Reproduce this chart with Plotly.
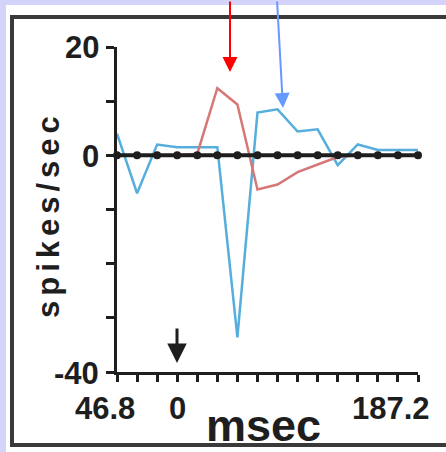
import plotly.graph_objects as go

W, H = 446, 452

# ---- data ----
time_ms = [-46.8, -31.2, -15.6, 0.0, 15.6, 31.2, 46.8, 62.4, 78.0, 93.6,
           109.2, 124.8, 140.4, 156.0, 171.6, 187.2]
blue_rate = [4.0, -7.0, 2.0, 1.5, 1.5, 1.5, -33.6, 7.9, 8.5, 4.4,
             4.8, -1.8, 2.0, 1.0, 1.0, 1.0]
red_rate = [0.0, 0.0, 0.0, 0.0, 0.3, 12.4, 9.4, -6.3, -5.4, -3.1,
            -1.7, -0.3, 0.0, 0.0, 0.0, 0.0]
y_ticks = [20, 10, 0, -10, -20, -30, -40]
y_labels = ["20", "0", "-40"]
x_labels = ["46.8", "0", "187.2"]


def px(x, y):
    return x / W, 1 - y / H


FONT = "Liberation Sans, Arial, sans-serif"
INK = "#1e1e1e"

fig = go.Figure()
fig.add_trace(go.Scatter(x=time_ms, y=blue_rate, mode="lines",
                         line=dict(color="#56aedc", width=2.5), showlegend=False))
fig.add_trace(go.Scatter(x=time_ms, y=red_rate, mode="lines",
                         line=dict(color="#d67878", width=2.5), showlegend=False))
fig.add_trace(go.Scatter(x=time_ms, y=[0] * len(time_ms), mode="lines+markers",
                         line=dict(color=INK, width=4),
                         marker=dict(color=INK, size=8, symbol="circle"),
                         showlegend=False, cliponaxis=False))

x0, y0 = px(117, 0)
x1, _ = px(418, 0)
_, yb = px(0, 372)
_, yt = px(0, 47)

fig.update_layout(
    width=W, height=H, autosize=False,
    margin=dict(l=0, r=0, t=0, b=0),
    paper_bgcolor="#d4d4fa", plot_bgcolor="rgba(0,0,0,0)",
    xaxis=dict(domain=[x0, x1], range=[time_ms[0], time_ms[-1]],
               showgrid=False, zeroline=False, showline=True,
               linecolor=INK, linewidth=3, ticks="outside", tickvals=time_ms,
               ticklen=7, tickwidth=3, tickcolor=INK, showticklabels=False),
    yaxis=dict(domain=[yb, yt], range=[-40, 20],
               showgrid=False, zeroline=False, showline=True,
               linecolor=INK, linewidth=3, ticks="outside", tickvals=y_ticks,
               ticklen=8, tickwidth=3, tickcolor=INK, showticklabels=False),
    font=dict(family=FONT, color=INK),
)

# panel background and frame
a, b = px(6, 5)
c, d = px(460, 470)
fig.add_shape(type="rect", xref="paper", yref="paper", x0=a, y0=b, x1=c, y1=d,
              fillcolor="white", line=dict(width=0), layer="below")
a, b = px(12, 17)
c, d = px(470, 445)
fig.add_shape(type="rect", xref="paper", yref="paper", x0=a, y0=b, x1=c, y1=d,
              fillcolor="rgba(0,0,0,0)", line=dict(color="#3a3a3a", width=4),
              layer="below")

LBL = dict(size=31, family=FONT, color=INK, weight="bold")

# tick labels
for lab, (xx, yy) in zip(y_labels, [(101, 47), (101, 157), (101, 373)]):
    ax_, ay_ = px(xx, yy)
    fig.add_annotation(text=lab, x=ax_, y=ay_, xref="paper", yref="paper",
                       xanchor="right", yanchor="middle", showarrow=False,
                       font=LBL)
for lab, (xx, yy) in zip(x_labels, [(105, 408), (177, 408), (391, 408)]):
    ax_, ay_ = px(xx, yy)
    fig.add_annotation(text=lab, x=ax_, y=ay_, xref="paper", yref="paper",
                       xanchor="center", yanchor="middle", showarrow=False,
                       font=LBL)

# axis titles
ax_, ay_ = px(263, 425)
fig.add_annotation(text="msec", x=ax_, y=ay_, xref="paper", yref="paper",
                   xanchor="center", yanchor="middle", showarrow=False,
                   font=dict(size=45, family=FONT, color=INK, weight="bold"))
ax_, ay_ = px(48, 215)
fig.add_annotation(text="<span style='letter-spacing:5px'>spikes/sec</span>",
                   x=ax_, y=ay_, xref="paper", yref="paper", textangle=-90,
                   xanchor="center", yanchor="middle", showarrow=False,
                   font=dict(size=31, family=FONT, color=INK, weight="bold"))

# stimulus arrow at 0 ms
ax_, ay_ = px(177, 363)
fig.add_annotation(text="", x=ax_, y=ay_, xref="paper", yref="paper",
                   ax=0, ay=-36, showarrow=True, arrowhead=2, arrowsize=1.3,
                   arrowwidth=3, arrowcolor=INK)
# red and blue pointer arrows
ax_, ay_ = px(230, 72)
fig.add_annotation(text="", x=ax_, y=ay_, xref="paper", yref="paper",
                   ax=0, ay=-80, showarrow=True, arrowhead=2, arrowsize=1.5,
                   arrowwidth=2, arrowcolor="#ff0000")
ax_, ay_ = px(283, 108)
fig.add_annotation(text="", x=ax_, y=ay_, xref="paper", yref="paper",
                   ax=-6, ay=-116, showarrow=True, arrowhead=2, arrowsize=1.5,
                   arrowwidth=2, arrowcolor="#6699ff")

fig.write_html("out.html")
